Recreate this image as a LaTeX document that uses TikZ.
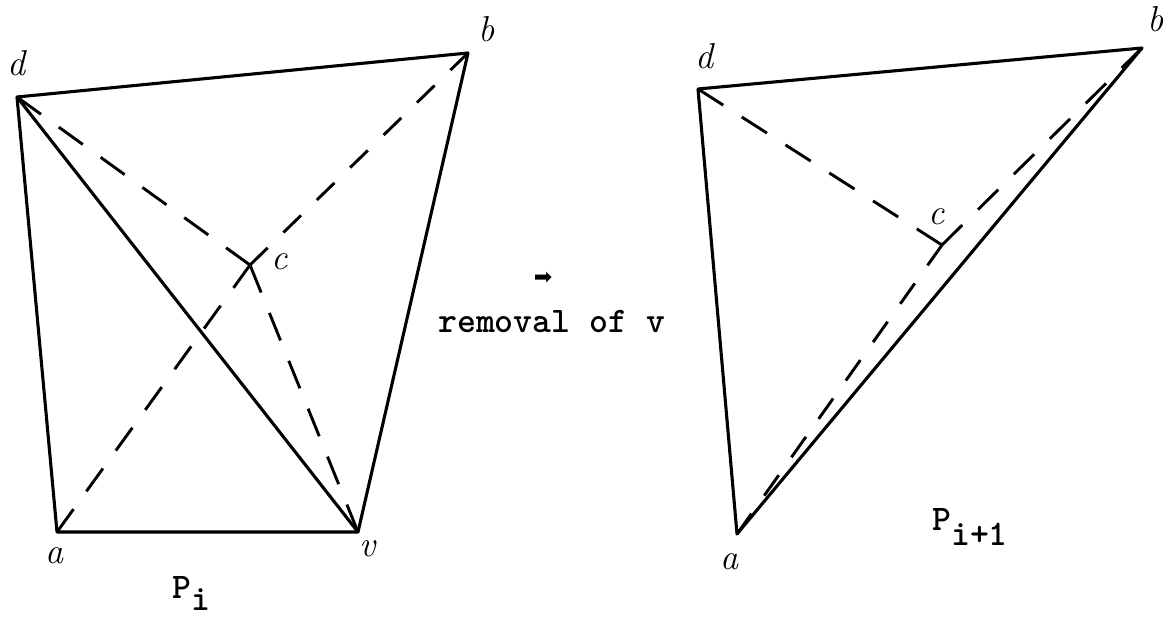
\documentclass[tikz,border=0pt]{standalone}
\usepackage{fontspec}
\newfontfamily\dejavu{DejaVu Sans}
\begin{document}
\begin{tikzpicture}[x=1pt,y=-1pt,
  edge/.style={line width=3.1pt, line join=round, line cap=round},
  dline/.style={line width=2.9pt},
  hand/.style={font=\fontsize{36}{36}\selectfont\itshape, inner sep=0pt},
  tw/.style={font=\ttfamily\bfseries\fontsize{36}{36}\selectfont, inner sep=0pt}]
\useasboundingbox (0,0) rectangle (1174,617);
\fill[white] (0,0) rectangle (1174,617);
% left polygon P_i
\coordinate (Ld) at (17,97);
\coordinate (Lb) at (468,53);
\coordinate (Lv) at (358,532);
\coordinate (La) at (57,532);
\coordinate (Lc) at (250,265);
\draw[edge] (Ld) -- (Lb) -- (Lv) -- (La) -- cycle;
\draw[edge] (Ld) -- (Lv);
\draw[dline, dash pattern=on 29.55pt off 22pt] (Ld) -- (Lc);
\draw[dline, dash pattern=on 29.67pt off 22pt] (Lc) -- (Lv);
\draw[dline, dash pattern=on 28.21pt off 22pt] (La) -- (Lc);
\draw[dline, dash pattern=on 24.59pt off 22pt] (Lc) -- (Lb);
\node[hand] (lbd) at (16,63) {d};
\node[hand] (lbb) at (487,29) {b};
\node[hand] (lbc) at (280,262) {c};
\node[hand] (lba) at (54,556) {a};
\node[hand] (lbv) at (368,549) {v};
\node[tw, anchor=base west] (lbP) at (172,598) {P\raisebox{-12pt}{i}};
% middle
\node[font=\dejavu\fontsize{22}{22}\selectfont, inner sep=0pt] (arr) at (543,278) {➡};
\node[tw, anchor=base west] (rem) at (438,332) {removal of v};
% right polygon P_{i+1}
\coordinate (Rd) at (698,89);
\coordinate (Rb) at (1142,48);
\coordinate (Ra) at (737,534);
\coordinate (Rc) at (942,245);
\draw[edge] (Rd) -- (Rb) -- (Ra) -- cycle;
\draw[dline, dash pattern=on 29.93pt off 22pt] (Rd) -- (Rc);
\draw[dline, dash pattern=on 25.04pt off 22pt] (Ra) -- (Rc);
\draw[dline, dash pattern=on 28.45pt off 22pt] (Rc) -- (Rb);
\node[hand] (rbd) at (704,56) {d};
\node[hand] (rbb) at (1156,19) {b};
\node[hand] (rbc) at (937,217) {c};
\node[hand] (rba) at (729,562) {a};
\node[tw, anchor=base west] (rbP) at (932,530) {P\raisebox{-15pt}{i+1}};
\end{tikzpicture}
\end{document}
